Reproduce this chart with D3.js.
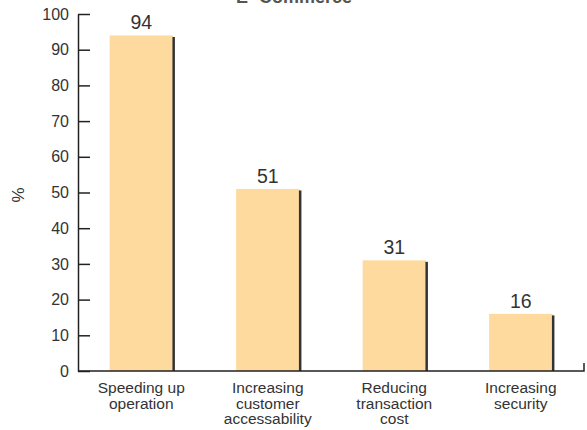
<!DOCTYPE html>
<html>
<head>
<meta charset="utf-8">
<script src="https://cdn.jsdelivr.net/npm/d3@7"></script>
<style>
  html, body { margin: 0; padding: 0; background: #fff; }
  svg { display: block; font-family: "Liberation Sans", Arial, Helvetica, sans-serif; }
</style>
</head>
<body>
<svg id="chart" width="587" height="430"></svg>
<script>
// Benefits of e-commerce, share of respondents (%)
const categories = [
  ["Speeding up", "operation"],
  ["Increasing", "customer", "accessability"],
  ["Reducing", "transaction", "cost"],
  ["Increasing", "security"]
];
const values = [94, 51, 31, 16];
const yTicks = [0, 10, 20, 30, 40, 50, 60, 70, 80, 90, 100];
const chartTitle = "E- Commerce";
const yLabel = "%";

const svg = d3.select("#chart");
const plotLeft = 78, plotRight = 584, plotTop = 14, plotBottom = 371;

const keys = categories.map((c, i) => i);
const x = d3.scaleBand().domain(keys).range([plotLeft, plotRight])
  .paddingInner(0.5).paddingOuter(0.25);
const y = d3.scaleLinear().domain([0, 100]).range([plotBottom, plotTop]);

// title (sits mostly above the canvas edge)
svg.append("text")
  .attr("x", 294).attr("y", 3)
  .attr("text-anchor", "middle")
  .attr("font-size", 18).attr("font-weight", "bold")
  .attr("fill", "#555")
  .text(chartTitle);

// bars
const g = svg.append("g");
g.selectAll("rect.bar").data(values).join("rect")
  .attr("class", "bar")
  .attr("x", (d, i) => x(i))
  .attr("y", d => y(d))
  .attr("width", x.bandwidth())
  .attr("height", d => y(0) - y(d))
  .attr("fill", "#FFDA9F");

// dark shading on the right edge of each bar
g.selectAll("line.edge").data(values).join("line")
  .attr("class", "edge")
  .attr("x1", (d, i) => x(i) + x.bandwidth() + 0.8)
  .attr("x2", (d, i) => x(i) + x.bandwidth() + 0.8)
  .attr("y1", d => y(d) + 1.5)
  .attr("y2", y(0))
  .attr("stroke", "#333")
  .attr("stroke-width", 2.5);

// value labels
g.selectAll("text.val").data(values).join("text")
  .attr("class", "val")
  .attr("x", (d, i) => x(i) + x.bandwidth() / 2)
  .attr("y", d => y(d) - 6)
  .attr("text-anchor", "middle")
  .attr("font-size", 19.5)
  .attr("fill", "#333")
  .text(d => d);

// y axis with inward ticks
const yAxis = svg.append("g")
  .attr("transform", `translate(${plotLeft},0)`)
  .call(d3.axisLeft(y).tickValues(yTicks).tickSize(-12).tickSizeOuter(0).tickPadding(9));
yAxis.select(".domain").attr("stroke", "#222").attr("stroke-width", 1.5);
yAxis.selectAll(".tick line").attr("stroke", "#222").attr("stroke-width", 1.5);
yAxis.selectAll(".tick text")
  .attr("font-size", 16).attr("fill", "#333")
  .attr("font-family", "'Liberation Sans', Arial, sans-serif");

// x axis baseline with a small closing tick at the right end
svg.append("path")
  .attr("d", `M${plotLeft},${y(0)}H${plotRight}V${y(0) - 8}`)
  .attr("fill", "none")
  .attr("stroke", "#222")
  .attr("stroke-width", 1.5);

// category labels
const cat = svg.append("g").selectAll("text.cat").data(categories).join("text")
  .attr("class", "cat")
  .attr("x", (d, i) => x(i) + x.bandwidth() / 2)
  .attr("y", 393)
  .attr("text-anchor", "middle")
  .attr("font-size", 15.5)
  .attr("fill", "#333");
cat.selectAll("tspan").data(d => d).join("tspan")
  .attr("x", function () { return d3.select(this.parentNode).attr("x"); })
  .attr("dy", (d, i) => i === 0 ? 0 : 15.5)
  .text(d => d);

// y axis label
svg.append("text")
  .attr("transform", "translate(24,195) rotate(-90)")
  .attr("text-anchor", "middle")
  .attr("font-size", 17)
  .attr("fill", "#333")
  .text(yLabel);
</script>
</body>
</html>
